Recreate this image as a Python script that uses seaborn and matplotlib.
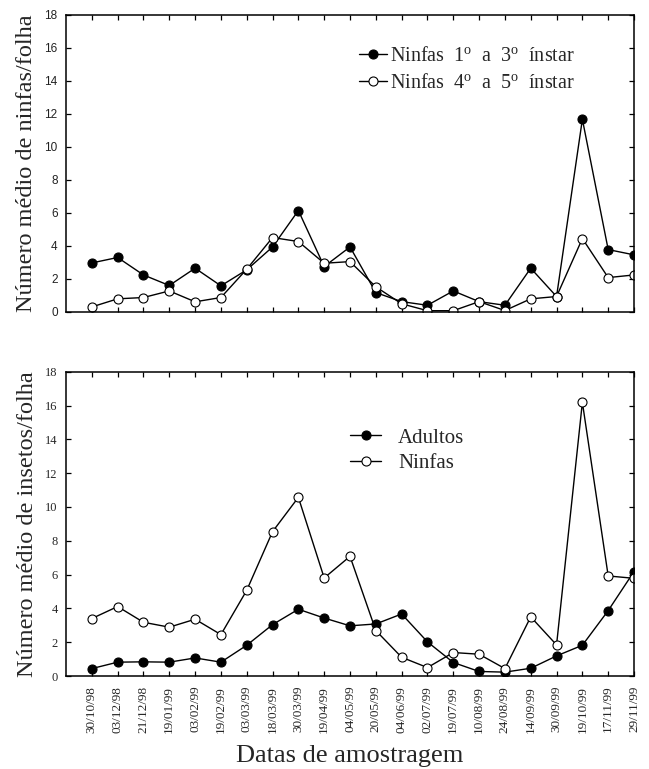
import numpy as np
import pandas as pd
import matplotlib
matplotlib.use("Agg")
import matplotlib.pyplot as plt
import seaborn as sns

dates = ["30/10/98", "03/12/98", "21/12/98", "19/01/99", "03/02/99", "19/02/99",
         "03/03/99", "18/03/99", "30/03/99", "19/04/99", "04/05/99", "20/05/99",
         "04/06/99", "02/07/99", "19/07/99", "10/08/99", "24/08/99", "14/09/99",
         "30/09/99", "19/10/99", "17/11/99", "29/11/99"]

ninfas_1_3 = [2.95, 3.28, 2.22, 1.58, 2.63, 1.56, 2.53, 3.92, 6.13, 2.73, 3.92, 1.15,
              0.60, 0.38, 1.25, 0.60, 0.38, 2.63, 0.91, 11.67, 3.76, 3.44]
ninfas_4_5 = [0.28, 0.77, 0.85, 1.25, 0.59, 0.85, 2.57, 4.49, 4.25, 2.93, 3.03, 1.50,
              0.47, 0.05, 0.05, 0.60, 0.06, 0.77, 0.91, 4.43, 2.06, 2.22]

adultos = [0.44, 0.82, 0.84, 0.82, 1.07, 0.82, 1.82, 3.04, 3.95, 3.43, 2.97, 3.08,
           3.67, 2.02, 0.80, 0.27, 0.23, 0.46, 1.19, 1.82, 3.87, 6.18]
ninfas = [3.40, 4.11, 3.18, 2.89, 3.36, 2.45, 5.07, 8.54, 10.57, 5.80, 7.08, 2.69,
          1.11, 0.50, 1.39, 1.29, 0.44, 3.50, 1.84, 16.19, 5.92, 5.78]

yticks = [0, 2, 4, 6, 8, 10, 12, 14, 16, 18]

sns.set_style("ticks")
plt.rcParams["font.family"] = ["Liberation Serif", "DejaVu Serif"]
plt.rcParams["mathtext.fontset"] = "custom"
plt.rcParams["mathtext.rm"] = "Liberation Serif"
plt.rcParams["mathtext.it"] = "Liberation Serif:italic"

df_top = pd.DataFrame({"data": dates, "n13": ninfas_1_3, "n45": ninfas_4_5})
df_bot = pd.DataFrame({"data": dates, "ad": adultos, "nf": ninfas})

fig = plt.figure(figsize=(6.49, 7.69), dpi=100)
ax1 = fig.add_axes([0.1017, 0.5949, 0.8752, 0.3856])
ax2 = fig.add_axes([0.1017, 0.1209, 0.8752, 0.3957])

filled = dict(color="black", markersize=6.5, markerfacecolor="black",
              markeredgecolor="black", markeredgewidth=0.8, linewidth=1.0)
hollow = dict(color="black", markersize=6.5, markerfacecolor="white",
              markeredgecolor="black", markeredgewidth=0.8, linewidth=1.0)

sns.pointplot(data=df_top, x="data", y="n13", ax=ax1, errorbar=None, markers="o",
              label="Ninfas  1$^{\\mathrm{o}}$  a  3$^{\\mathrm{o}}$  ínstar", **filled)
sns.pointplot(data=df_top, x="data", y="n45", ax=ax1, errorbar=None, markers="o",
              label="Ninfas  4$^{\\mathrm{o}}$  a  5$^{\\mathrm{o}}$  ínstar", **hollow)

sns.pointplot(data=df_bot, x="data", y="ad", ax=ax2, errorbar=None, markers="o",
              label="Adultos", **filled)
sns.pointplot(data=df_bot, x="data", y="nf", ax=ax2, errorbar=None, markers="o",
              label="Ninfas", **hollow)

for ax in (ax1, ax2):
    ax.set_xlim(-1, len(dates) - 1)
    ax.set_ylim(0, 18)
    ax.set_yticks(yticks)
    ax.set_xticks(range(len(dates)))
    ax.tick_params(direction="in", length=3.5, width=0.9, top=True, right=True,
                   color="black", pad=6)
    for s in ax.spines.values():
        s.set_visible(True)
        s.set_linewidth(1.1)
        s.set_color("black")
    ax.grid(False)

# top panel
ax1.set_xticklabels([])
ax1.set_xlabel("")
ax1.set_yticklabels([str(v) for v in yticks], family=["Liberation Sans", "DejaVu Sans"],
                    fontsize=8.5, color="#222222")
ax1.set_ylabel("Número médio de ninfas/folha", fontsize=17.5, labelpad=5)
leg1 = ax1.legend(loc="upper left", bbox_to_anchor=(0.515, 0.893), frameon=False,
                  fontsize=14.5, handlelength=1.4, handletextpad=0.15, labelspacing=0.42,
                  borderpad=0, borderaxespad=0)

# bottom panel
ax2.set_xticks(range(len(dates)))
ax2.set_xticklabels(dates, rotation=90, fontsize=9.5)
ax2.tick_params(axis="x", pad=7)
ax2.set_yticklabels([str(v) for v in yticks], fontsize=9)
ax2.set_ylabel("Número médio de insetos/folha", fontsize=17.5, labelpad=5)
ax2.set_xlabel("Datas de amostragem", fontsize=19, labelpad=9)
leg2 = ax2.legend(loc="upper left", bbox_to_anchor=(0.50, 0.815), frameon=False,
                  fontsize=15, handlelength=1.5, handletextpad=0.8, labelspacing=0.3,
                  borderpad=0, borderaxespad=0)

fig.savefig("out.png", dpi=100)
